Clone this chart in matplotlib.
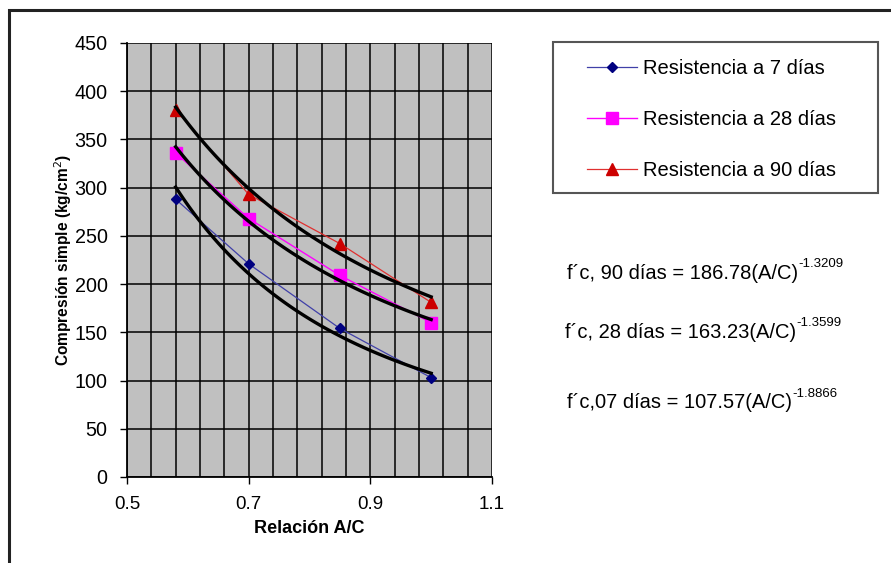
import numpy as np
import matplotlib.pyplot as plt
from matplotlib.patches import Rectangle
from matplotlib.ticker import FixedLocator, MultipleLocator

plt.rcParams['font.family'] = ['Liberation Sans', 'DejaVu Sans']

# data
ac = [0.58, 0.70, 0.85, 1.00]
r7 = [288, 221, 154, 103]
r28 = [336, 268, 209, 160]
r90 = [381, 293, 242, 181]

labels = ['Resistencia a 7 días', 'Resistencia a 28 días', 'Resistencia a 90 días']
xticks = [0.5, 0.7, 0.9, 1.1]
xtick_labels = ['0.5', '0.7', '0.9', '1.1']

# power trend lines as printed on the chart: a*(A/C)^b
coef_a = [107.57, 163.23, 186.78]
coef_b = [-1.8866, -1.3599, -1.3209]

fig = plt.figure(figsize=(8.91, 5.63), dpi=100)
W, H = 891, 563

# outer frame (cut off on right/bottom)
fig.patches.append(Rectangle((9 / W, -0.05), 1.0, 1 - 10 / H + 0.05,
                             transform=fig.transFigure, fill=False,
                             edgecolor='#222222', linewidth=2.2, clip_on=False))

ax = fig.add_axes([127 / W, (H - 477) / H, 365 / W, 434 / H])
ax.set_facecolor('#c0c0c0')
ax.set_xlim(0.5, 1.1)
ax.set_ylim(0, 450)
ax.xaxis.set_major_locator(FixedLocator(xticks))
ax.xaxis.set_minor_locator(FixedLocator(np.arange(0.5, 1.1001, 0.04)))
ax.set_xticklabels(xtick_labels)
ax.yaxis.set_major_locator(MultipleLocator(50))
ax.grid(True, which='both', color='black', linewidth=1.1)
ax.set_axisbelow(True)
for s in ['top', 'right']:
    ax.spines[s].set_visible(False)
for s in ['left', 'bottom']:
    ax.spines[s].set_linewidth(1.3)
ax.tick_params(axis='both', which='major', direction='out', length=5,
               width=1, labelsize=13.5, colors='black')
ax.tick_params(axis='y', which='major', labelsize=14.2, pad=9)
ax.tick_params(axis='x', which='major', pad=9)
ax.tick_params(axis='x', which='minor', length=0)

ax.set_xlabel('Relación A/C', fontsize=13, fontweight='bold', labelpad=5)
ax.set_ylabel('Compresión simple (kg/cm$^{2}$)', fontsize=11.2, fontweight='bold',
              labelpad=0)

l7, = ax.plot(ac, r7, color='#4040a8', linewidth=0.9, marker='D', markersize=5.5,
              markerfacecolor='#000080', markeredgecolor='#000080', label=labels[0])
l28, = ax.plot(ac, r28, color='#ff00ff', linewidth=1.0, marker='s', markersize=8,
               markerfacecolor='#ff00ff', markeredgecolor='#ff00ff', label=labels[1])
l90, = ax.plot(ac, r90, color='#e03030', linewidth=0.9, marker='^', markersize=8,
               markerfacecolor='#cc0000', markeredgecolor='#cc0000', label=labels[2])

xs = np.linspace(ac[0], ac[-1], 100)
for a, b in zip(coef_a, coef_b):
    ax.plot(xs, a * xs ** b, color='black', linewidth=2.4, zorder=4)

# legend frame drawn by hand, legend entries placed inside
fig.patches.append(Rectangle((553 / W, 1 - 193 / H), 325 / W, 151 / H,
                             transform=fig.transFigure, facecolor='white',
                             edgecolor='#555555', linewidth=1.5))
leg = fig.legend(handles=[l7, l28, l90], loc='center left',
                 bbox_to_anchor=(587 / W, 1 - 119.5 / H),
                 fontsize=14.5, frameon=False, labelspacing=1.6, borderpad=0,
                 handlelength=2.5, handletextpad=0.3, borderaxespad=0)

eqs = [('f´c, 90 días = 186.78(A/C)', '-1.3209', 567, 273),
       ('f´c, 28 días = 163.23(A/C)', '-1.3599', 565, 332),
       ('f´c,07 días = 107.57(A/C)', '-1.8866', 567, 403)]
for main, sup, x, y in eqs:
    t = fig.text(x / W, 1 - y / H, main, fontsize=14.5, va='center', ha='left')
    ax.annotate(sup, xy=(1, 0.95), xycoords=t, fontsize=9.5, va='center', ha='left',
                annotation_clip=False)

fig.savefig('out.png', dpi=100)
